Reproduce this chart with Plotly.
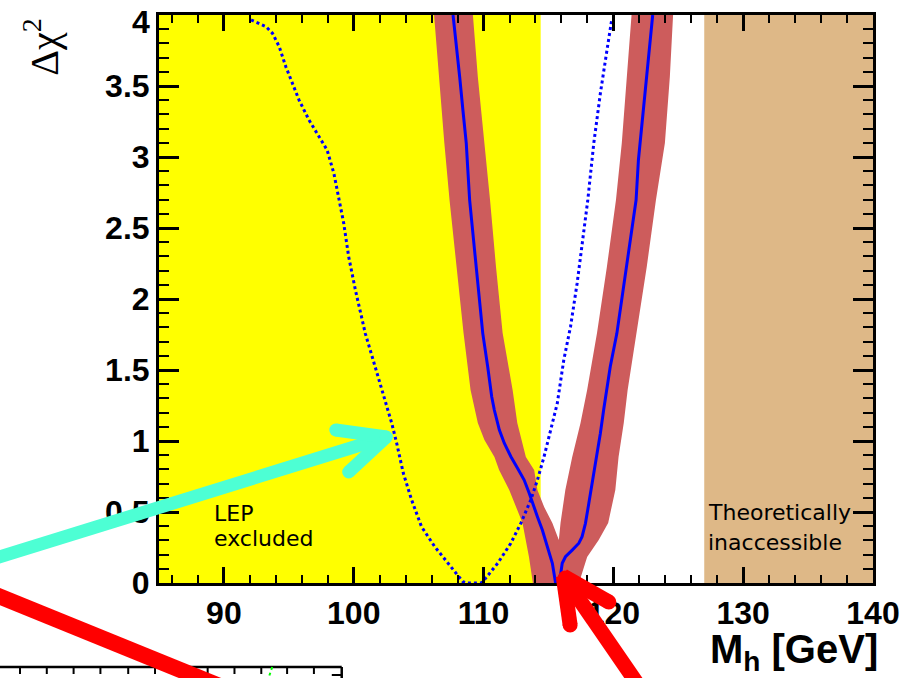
import plotly.graph_objects as go

# ---------------- data ----------------
# Central fit curve (solid blue): left and right branches
fit_x = [107.65, 107.9, 108.16, 108.41, 108.67, 108.79, 108.93, 109.18, 109.43, 109.69,
         109.94, 110.32, 110.63, 110.83, 111.22, 111.6, 112.11, 112.62, 113.13, 113.52,
         113.77, 114.15, 114.53, 114.92, 115.3, 115.55, 115.93, 116.06, 116.31, 116.83,
         117.34, 117.59, 117.85, 118.11, 118.36, 118.74, 119.0, 119.25, 119.51, 119.76,
         120.27, 120.65, 121.04, 121.42, 121.75, 121.93, 122.31, 122.57, 122.82, 123.03]
fit_y = [4.0, 3.8, 3.565, 3.331, 3.096, 2.908, 2.697, 2.462, 2.228, 1.993,
         1.758, 1.523, 1.312, 1.218, 1.077, 0.984, 0.889, 0.808, 0.725, 0.632,
         0.561, 0.467, 0.373, 0.256, 0.139, 0.0, 0.056, 0.139, 0.185, 0.232,
         0.28, 0.326, 0.42, 0.561, 0.702, 0.889, 1.054, 1.218, 1.359, 1.523,
         1.758, 1.993, 2.228, 2.462, 2.697, 2.979, 3.331, 3.565, 3.8, 4.0]

# Alternative fit (dotted blue)
alt_x = [92.09, 93.24, 93.75, 94.26, 94.77, 95.28, 95.79, 96.55, 97.32, 97.95,
         98.47, 98.85, 99.23, 99.61, 100.13, 100.89, 101.66, 102.42, 102.93, 103.31,
         103.82, 104.46, 105.22, 106.24, 107.26, 108.41, 108.7, 109.8, 109.94, 111.09,
         112.1, 112.87, 113.64, 114.15, 114.66, 115.17, 115.68, 116.18, 116.7, 117.21,
         117.59, 118.03, 118.49, 119.0, 119.51, 119.89]
alt_y = [3.965, 3.918, 3.87, 3.777, 3.636, 3.519, 3.401, 3.261, 3.143, 3.049,
         2.885, 2.72, 2.533, 2.298, 2.063, 1.758, 1.523, 1.289, 1.125, 0.984,
         0.773, 0.585, 0.397, 0.256, 0.139, 0.009, 0.0, 0.0, 0.009, 0.139,
         0.28, 0.42, 0.585, 0.725, 0.889, 1.077, 1.265, 1.57, 1.805, 2.111,
         2.392, 2.697, 3.096, 3.449, 3.754, 3.977]

# Theory-uncertainty band edges
bandL_y     = [4.0, 3.563, 3.099, 2.697, 2.225, 1.761, 1.359, 1.127, 1.007, 0.887, 0.796, 0.655, 0.423, 0.183, 0.0]
bandL_outer = [106.19, 106.55, 106.98, 107.38, 107.9, 108.46, 109.0, 109.56, 110.07, 110.84, 111.2, 111.98, 113.0, 113.5, 113.8]
bandR_y     = [0.0, 0.183, 0.303, 0.423, 0.655, 0.887, 1.127, 1.359, 1.761, 2.225, 2.697, 3.099, 3.563, 4.0]
bandR_outer = [117.35, 117.98, 118.87, 119.6, 120.15, 120.4, 120.8, 121.1, 121.8, 122.57, 123.28, 123.97, 124.35, 124.6]
bandR_in_y  = [4.0, 3.563, 3.099, 2.697, 2.225, 1.761, 1.359, 1.127, 0.887, 0.655, 0.423, 0.303]
bandR_inner = [121.4, 121.04, 120.65, 120.2, 119.5, 118.74, 117.98, 117.47, 116.83, 116.3, 115.93, 115.8]
bandL_in_y  = [0.303, 0.423, 0.535, 0.655, 0.796, 0.887, 1.127, 1.359, 1.761, 2.225, 2.697, 3.099, 3.563, 4.0]
bandL_inner = [115.8, 115.3, 114.67, 114.15, 113.9, 113.26, 112.6, 112.24, 111.47, 110.96, 110.5, 110.06, 109.56, 109.18]

# Regions
lep_limit = 114.4
theory_limit = 127.0
x_range = [85, 140]
y_range = [0, 4]
y_top_label = "4"

# ---------------- figure ----------------
fig = go.Figure()

band_x = bandL_outer + bandR_outer + bandR_inner + bandL_inner
band_y = bandL_y + bandR_y + bandR_in_y + bandL_in_y
fig.add_trace(go.Scatter(x=band_x, y=band_y, mode="lines", fill="toself",
                         fillcolor="#CD5C5C", line=dict(width=0, color="#CD5C5C"),
                         hoverinfo="skip", showlegend=False))
fig.add_trace(go.Scatter(x=fit_x, y=fit_y, mode="lines",
                         line=dict(color="#0000FF", width=3), showlegend=False))
fig.add_trace(go.Scatter(x=alt_x, y=alt_y, mode="lines",
                         line=dict(color="#0000FF", width=3, dash="dot"), showlegend=False))

# background regions
fig.add_shape(type="rect", xref="x", yref="y", x0=x_range[0], x1=lep_limit, y0=y_range[0], y1=y_range[1],
              fillcolor="#FFFF00", line=dict(width=0), layer="below")
fig.add_shape(type="rect", xref="x", yref="y", x0=theory_limit, x1=x_range[1], y0=y_range[0], y1=y_range[1],
              fillcolor="#DEB887", line=dict(width=0), layer="below")

# ---------------- overlay decorations (pixel positions) ----------------
L, R, T, B = 159, 878, 15, 583
def px(x):
    return (x - L) / (R - L)
def py(y):
    return (B - y) / (B - T)

def seg(x0, y0, x1, y1, color, width, dash=None):
    fig.add_shape(type="line", xref="paper", yref="paper",
                  x0=px(x0), y0=py(y0), x1=px(x1), y1=py(y1),
                  line=dict(color=color, width=width, dash=dash), layer="above")

def dot(x, y, color, d):
    fig.add_shape(type="circle", xref="paper", yref="paper", xsizemode="pixel", ysizemode="pixel",
                  xanchor=px(x), yanchor=py(y), x0=-d / 2, x1=d / 2, y0=-d / 2, y1=d / 2,
                  fillcolor=color, line=dict(width=0), layer="above")

# partial lower panel frame
lower_ticks = [19, 46, 73, 100, 128, 155, 182, 208, 235, 262, 288, 315]
seg(-5, 667, 343, 667, "black", 2.5)
seg(343, 667, 343, 690, "black", 2.5)
for tx in lower_ticks:
    seg(tx, 667, tx, 674, "black", 2)
seg(333, 675, 343, 675, "black", 2)
seg(273, 667, 269, 679, "#00FF00", 2, "dot")

cyan = "#4DFFD4"
seg(-5, 558, 388, 437, cyan, 13)
seg(388, 437, 337, 430, cyan, 13)
seg(388, 437, 350, 472, cyan, 13)
for (cx, cy) in [(337, 430), (350, 472), (388, 437)]:
    dot(cx, cy, cyan, 13)

red = "#FF0000"
seg(-5, 595, 230, 690, red, 16)
seg(566, 576, 645, 690, red, 15)
seg(566, 576, 573, 625, red, 15)
seg(566, 576, 612, 602, red, 15)
for (cx, cy) in [(573, 625), (612, 602), (568, 578)]:
    dot(cx, cy, red, 15)

# ---------------- texts ----------------
txt_font = dict(family="DejaVu Sans", size=22, color="black")
fig.add_annotation(x=89.06, y=0.486, xref="x", yref="y", text="LEP", showarrow=False,
                   xanchor="left", yanchor="middle", font=txt_font)
fig.add_annotation(x=89.06, y=0.31, xref="x", yref="y", text="excluded", showarrow=False,
                   xanchor="left", yanchor="middle", font=txt_font)
fig.add_annotation(x=127.16, y=0.498, xref="x", yref="y", text="Theoretically", showarrow=False,
                   xanchor="left", yanchor="middle", font=txt_font)
fig.add_annotation(x=127.16, y=0.287, xref="x", yref="y", text="inaccessible", showarrow=False,
                   xanchor="left", yanchor="middle", font=txt_font)

fig.add_annotation(x=px(885), y=py(652), xref="paper", yref="paper", text="M<sub>h</sub> [GeV]",
                   showarrow=False, xanchor="right", yanchor="middle",
                   font=dict(family="Liberation Sans", size=40, color="black", weight="bold"))
fig.add_annotation(x=px(40), y=py(47), xref="paper", yref="paper", text="Δχ<sup>2</sup>",
                   showarrow=False, xanchor="center", yanchor="middle", textangle=-90,
                   font=dict(family="Liberation Serif", size=40, color="black"))

tick_font = dict(family="Liberation Sans", size=32, color="black", weight="bold")
# top y label, shifted down to stay inside the page (as in the reference)
fig.add_annotation(x=px(152), y=py(22), xref="paper", yref="paper", text=y_top_label,
                   showarrow=False, xanchor="right", yanchor="middle", font=tick_font)

fig.update_xaxes(range=x_range, dtick=10, tick0=0, showgrid=False, zeroline=False,
                 showline=True, linecolor="black", linewidth=3, mirror="ticks",
                 ticks="inside", ticklen=16, tickwidth=2.5, tickcolor="black",
                 minor=dict(dtick=2, ticks="inside", ticklen=8, tickwidth=2, tickcolor="black"),
                 tickfont=tick_font)
fig.update_yaxes(range=y_range, dtick=0.5, tick0=0, showgrid=False, zeroline=False,
                 showline=True, linecolor="black", linewidth=3, mirror="ticks",
                 ticks="inside", ticklen=20, tickwidth=2.5, tickcolor="black",
                 minor=dict(dtick=0.1, ticks="inside", ticklen=10, tickwidth=2, tickcolor="black"),
                 tickfont=tick_font)

fig.update_layout(width=912, height=678, margin=dict(l=L, r=912 - R, t=T, b=678 - B),
                  plot_bgcolor="white", paper_bgcolor="white", showlegend=False)

fig.write_html("out.html")
